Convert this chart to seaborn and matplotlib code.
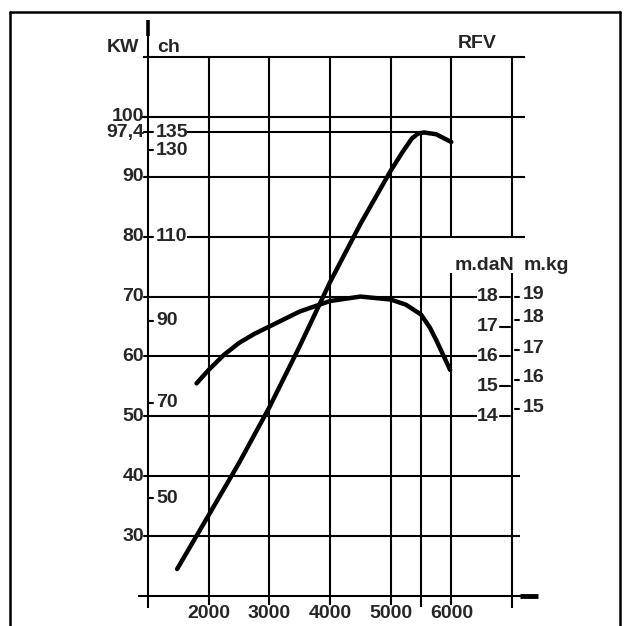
import matplotlib.pyplot as plt
import seaborn as sns

# power curve (kW)
rpm_power = [1480, 2000, 2500, 3000, 3500, 4000, 4500, 5000, 5200, 5350, 5450, 5550, 5750, 6000]
power_kw = [24.5, 33.5, 42.2, 51.5, 61.7, 72.4, 82.1, 91.0, 94.2, 96.4, 97.2, 97.4, 97.1, 95.8]

# torque curve (m.daN)
rpm_torque = [1800, 2000, 2250, 2500, 2750, 3000, 3500, 4000, 4500, 5000, 5250, 5500,
              5650, 5750, 5900, 5980]
torque_mdan = [15.1, 15.55, 16.05, 16.45, 16.75, 17.0, 17.5, 17.85, 18.0, 17.9, 17.73, 17.4,
               16.95, 16.55, 15.9, 15.55]

rpm_labels = [2000, 3000, 4000, 5000, 6000]
kw_ticks = [100, 97.4, 90, 80, 70, 60, 50, 40, 30]
kw_labels = ['100', '97,4', '90', '80', '70', '60', '50', '40', '30']
ch_labels = ['135', '130', '110', '90', '70', '50']
ch_pos_kw = [97.4, 94.4, 80, 66.0, 52.3, 36.3]
mdan_ticks = [18, 17, 16, 15, 14]
mkg_labels = ['19', '18', '17', '16', '15']
mkg_pos_mdan = [18.0, 17.23, 16.2, 15.23, 14.23]

sns.set_style('white')
plt.rcParams['font.family'] = ['Liberation Sans', 'DejaVu Sans']
plt.rcParams['font.weight'] = 'bold'

W, H = 628, 626
fig = plt.figure(figsize=(W / 100, H / 100), dpi=100)

# axes spread over the whole figure; 1000..7000 rpm -> px 148..512, 20..110 kW -> px 596..57
RPM_PX = 6000 / 364
KW_PX = 90 / 539
ax = fig.add_axes([0, 0, 1, 1])
ax.set_xlim(1000 - 148 * RPM_PX, 1000 + (W - 148) * RPM_PX)
ax.set_ylim(20 - (H - 596) * KW_PX, 20 + 596 * KW_PX)
ax.axis('off')

# torque scale: 18 m.daN at 70 kW, 1 m.daN = 5 kW
ax2 = ax.twinx()
ax2.set_position([0, 0, 1, 1])
lo, hi = ax.get_ylim()
ax2.set_ylim(18 + (lo - 70) / 5, 18 + (hi - 70) / 5)
ax2.axis('off')

lw_grid = 1.5
k = 'black'
fs = 14

# horizontal lines: (kW, rpm start, rpm end)
hlines = [(110, 918, 7210), (100, 870, 7210), (97.4, 1640, 5500), (90, 950, 7210),
          (80, 1640, 7210), (70, 1000, 6420), (60, 1000, 6420), (50, 1000, 6420),
          (40, 1000, 7130), (30, 1000, 7130), (20, 835, 7430)]
for y, a, b in hlines:
    ax.plot([a, b], [y, y], color=k, lw=lw_grid, solid_capstyle='butt', zorder=2)
ax.plot([7130, 7430], [20, 20], color=k, lw=3.5, solid_capstyle='butt', zorder=2)

# vertical lines: (rpm, kW bottom, kW top)
vlines = [(1000, 18.0, 116.2), (2000, 18.5, 110), (3000, 18.5, 110), (4000, 18.5, 110),
          (5000, 18.5, 110), (5500, 18.2, 97.4), (6000, 18.5, 74), (6000, 80, 110),
          (7000, 18.0, 74), (7000, 80, 110)]
for x, a, b in vlines:
    ax.plot([x, x], [a, b], color=k, lw=lw_grid, solid_capstyle='butt', zorder=2)
ax.plot([1000, 1000], [113.5, 116.2], color=k, lw=2.6, solid_capstyle='butt', zorder=2)

# curves
sns.lineplot(x=rpm_power, y=power_kw, ax=ax, color=k, lw=3.2, zorder=3)
sns.lineplot(x=rpm_torque, y=torque_mdan, ax=ax2, color=k, lw=3.2, zorder=3)
ax.axis('off')
ax2.axis('off')

# kW scale on the left
for v, lab in zip(kw_ticks, kw_labels):
    ax.plot([1000 - 4 * RPM_PX, 1000], [v, v], color=k, lw=lw_grid, zorder=2)
    ax.annotate(lab, (1000, v), xytext=(-4, 0), textcoords='offset pixels',
                ha='right', va='center', fontsize=fs)

# ch scale
for v, lab in zip(ch_pos_kw, ch_labels):
    ax.plot([1000, 1000 + 5 * RPM_PX], [v, v], color=k, lw=lw_grid, zorder=2)
    ax.annotate(lab, (1000, v), xytext=(8, 0), textcoords='offset pixels',
                ha='left', va='center', fontsize=fs)

# rpm labels
for r in rpm_labels:
    ax.annotate(str(r), (r, 20), xytext=(0, -17), textcoords='offset pixels',
                ha='center', va='center', fontsize=fs)

# torque scales on the right
for v in mdan_ticks:
    ax2.plot([7000 - 12 * RPM_PX, 7000 - 2 * RPM_PX], [v, v], color=k, lw=lw_grid)
    ax2.annotate(str(v), (7000, v), xytext=(-14, 0), textcoords='offset pixels',
                 ha='right', va='center', fontsize=fs)
for v, lab in zip(mkg_pos_mdan, mkg_labels):
    ax2.plot([7000 + 3 * RPM_PX, 7000 + 7 * RPM_PX], [v, v], color=k, lw=lw_grid)
    ax2.annotate(lab, (7000, v), xytext=(11, 2), textcoords='offset pixels',
                 ha='left', va='center', fontsize=fs)

# axis titles
fig.text(123 / W, 1 - 47 / H, 'KW', ha='center', va='center', fontsize=fs)
fig.text(169 / W, 1 - 47 / H, 'ch', ha='center', va='center', fontsize=fs)
fig.text(477 / W, 1 - 44 / H, 'RFV', ha='center', va='center', fontsize=fs)
fig.text(484 / W, 1 - 265 / H, 'm.daN', ha='center', va='center', fontsize=fs)
fig.text(546 / W, 1 - 265 / H, 'm.kg', ha='center', va='center', fontsize=fs)

# frame of the scanned page
for xs, ys in [([10, 10], [12, 626]), ([10, 620], [12, 12]), ([620, 620], [12, 626])]:
    fig.add_artist(plt.Line2D([x / W for x in xs], [1 - y / H for y in ys],
                              color=k, lw=1.8, transform=fig.transFigure))

fig.savefig('out.png', dpi=100)
